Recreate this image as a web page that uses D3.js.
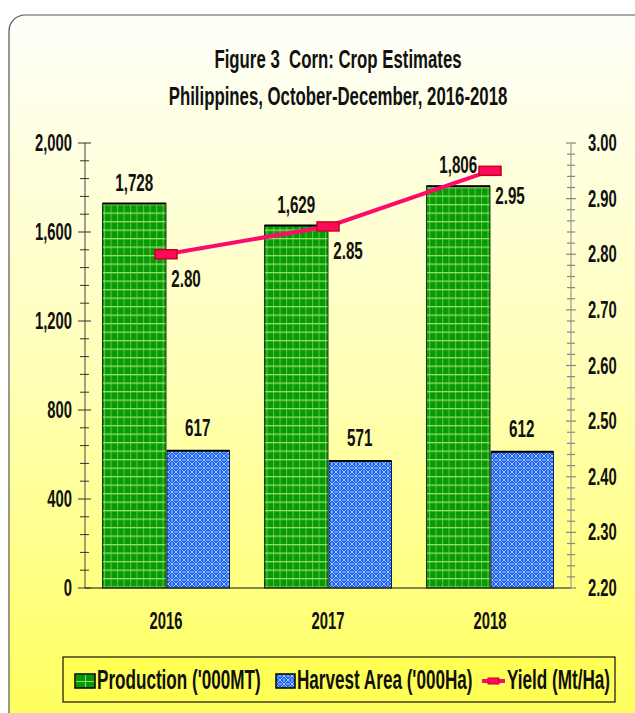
<!DOCTYPE html>
<html><head><meta charset="utf-8">
<script src="https://cdn.jsdelivr.net/npm/d3@7"></script>
<style>
html,body{margin:0;padding:0;background:#fff;}
svg text{font-family:"Liberation Sans",Arial,sans-serif;font-weight:bold;fill:#111;white-space:pre;}
</style></head>
<body>
<script>
const years = ["2016","2017","2018"];
const production = [1728, 1629, 1806];
const harvestArea = [617, 571, 612];
const yieldVals = [2.80, 2.85, 2.95];
const leftTicks = [0, 400, 800, 1200, 1600, 2000];
const rightTicks = [2.20, 2.30, 2.40, 2.50, 2.60, 2.70, 2.80, 2.90, 3.00];
const titleLines = ["Figure 3  Corn: Crop Estimates", "Philippines, October-December, 2016-2018"];
const legendLabels = ["Production ('000MT)", "Harvest Area ('000Ha)", "Yield (Mt/Ha)"];

const W = 635, H = 713;
const SX = 0.8, SY = 1.25; // narrow, tall glyphs
const tf = (x, y) => `translate(${x},${y}) scale(${SX},${SY})`;

const svg = d3.select("body").append("svg").attr("width", W).attr("height", H);
const defs = svg.append("defs");

const grad = defs.append("linearGradient").attr("id","bg").attr("x1",0).attr("y1",0).attr("x2",0).attr("y2",1);
grad.append("stop").attr("offset","0%").attr("stop-color","#fffffa");
grad.append("stop").attr("offset","50%").attr("stop-color","#ffffb4");
grad.append("stop").attr("offset","100%").attr("stop-color","#ffff50");

// green grid pattern
const pg = defs.append("pattern").attr("id","pgreen").attr("patternUnits","userSpaceOnUse")
  .attr("width",6.5).attr("height",8.5);
pg.append("rect").attr("width",6.5).attr("height",8.5).attr("fill","#069a06");
pg.append("rect").attr("x",0).attr("y",0).attr("width",1.1).attr("height",8.5).attr("fill","#5cc23a");
pg.append("rect").attr("x",0).attr("y",0).attr("width",6.5).attr("height",1.3).attr("fill","#94de6a");

const pgL = defs.append("pattern").attr("id","pgreenL").attr("patternUnits","userSpaceOnUse")
  .attr("width",10).attr("height",7).attr("x",75).attr("y",674);
pgL.append("rect").attr("width",10).attr("height",7).attr("fill","#069a06");
pgL.append("rect").attr("x",0).attr("y",0).attr("width",1).attr("height",7).attr("fill","#90dc68");
pgL.append("rect").attr("x",0).attr("y",0).attr("width",10).attr("height",1).attr("fill","#90dc68");

// blue lattice pattern
const pb = defs.append("pattern").attr("id","pblue").attr("patternUnits","userSpaceOnUse")
  .attr("width",8).attr("height",8);
pb.append("rect").attr("width",8).attr("height",8).attr("fill","#1862f2");
pb.append("path").attr("d","M0,0 L8,8 M8,0 L0,8").attr("stroke","#a8c8ff").attr("stroke-width",1).attr("fill","none");
pb.append("path").attr("d","M4,0 L4,1.5 M0,4 L1.5,4 M6.5,4 L8,4 M4,6.5 L4,8").attr("stroke","#d8e6ff").attr("stroke-width",1).attr("fill","none");

// frame
svg.append("rect").attr("x",9).attr("y",15).attr("width",W+40).attr("height",H+40)
  .attr("rx",16).attr("ry",16).attr("fill","url(#bg)").attr("stroke","#555").attr("stroke-width",1.2);

// title
svg.append("g").selectAll("text").data(titleLines).join("text")
  .attr("transform",(d,i)=>tf(338, 68+i*37)).attr("text-anchor","middle")
  .attr("font-size",21).text(d=>d);

const x0 = 85, x1 = 571, yTop = 143, yBot = 588;
const x = d3.scaleBand().domain(years).range([x0,x1]).paddingInner(0.216).paddingOuter(0.108);
const xs = d3.scaleBand().domain(["p","h"]).range([0,x.bandwidth()]);
const yL = d3.scaleLinear().domain([0,2000]).range([yBot,yTop]);
const yR = d3.scaleLinear().domain([2.2,3.0]).range([yBot,yTop]);
const fmt = d3.format(",");

// bars
const gb = svg.append("g");
years.forEach((yr,i)=>{
  const bx = x(yr);
  const hp = yL(production[i]);
  gb.append("rect").attr("x",bx+xs("p")).attr("y",hp).attr("width",xs.bandwidth()).attr("height",yBot-hp)
    .attr("fill","url(#pgreen)").attr("stroke","#1a3a1a").attr("stroke-width",1);
  gb.append("line").attr("x1",bx+xs("p")).attr("x2",bx+xs("p")+xs.bandwidth()).attr("y1",hp).attr("y2",hp)
    .attr("stroke","#000").attr("stroke-width",2);
  const hh = yL(harvestArea[i]);
  gb.append("rect").attr("x",bx+xs("h")+1).attr("y",hh).attr("width",xs.bandwidth()-1).attr("height",yBot-hh)
    .attr("fill","url(#pblue)").attr("stroke","#10204a").attr("stroke-width",1);
  gb.append("line").attr("x1",bx+xs("h")+1).attr("x2",bx+xs("h")+xs.bandwidth()).attr("y1",hh).attr("y2",hh)
    .attr("stroke","#000").attr("stroke-width",2);
  gb.append("text").attr("transform",tf(bx+xs("p")+xs.bandwidth()/2, hp-13)).attr("text-anchor","middle")
    .attr("font-size",19).text(fmt(production[i]));
  gb.append("text").attr("transform",tf(bx+xs("h")+xs.bandwidth()/2, hh-15)).attr("text-anchor","middle")
    .attr("font-size",19).text(fmt(harvestArea[i]));
});

// baseline
svg.append("line").attr("x1",x0).attr("x2",x1).attr("y1",yBot).attr("y2",yBot).attr("stroke","#111").attr("stroke-width",1.2);

// left axis
const gl = svg.append("g");
gl.append("line").attr("x1",x0).attr("x2",x0).attr("y1",yTop).attr("y2",yBot).attr("stroke","#444").attr("stroke-width",1);
const lMinor = d3.range(0,2001,80);
gl.selectAll("line.t").data(lMinor).join("line").attr("class","t")
  .attr("x1",d=> leftTicks.includes(d)?x0-7:x0-5).attr("x2",d=> leftTicks.includes(d)?x0+6:x0+4)
  .attr("y1",d=>yL(d)).attr("y2",d=>yL(d)).attr("stroke","#333").attr("stroke-width",1);
gl.selectAll("text").data(leftTicks).join("text").attr("transform",d=>tf(x0-13, yL(d)+8))
  .attr("text-anchor","end").attr("font-size",18.5).text(d=>fmt(d));

// right axis
const gr = svg.append("g");
gr.append("line").attr("x1",x1).attr("x2",x1).attr("y1",yTop).attr("y2",yBot).attr("stroke","#888").attr("stroke-width",1);
const rMinor = d3.range(0,41).map(k=>2.2+k*0.02);
gr.selectAll("line.t").data(rMinor).join("line").attr("class","t")
  .attr("x1",(d,k)=> k%5===0?x1-5:x1-4).attr("x2",(d,k)=> k%5===0?x1+5:x1+4)
  .attr("y1",d=>yR(d)).attr("y2",d=>yR(d)).attr("stroke","#888").attr("stroke-width",1.2);
gr.selectAll("text").data(rightTicks).join("text").attr("transform",d=>tf(x1+17, yR(d)+8))
  .attr("text-anchor","start").attr("font-size",18.5).text(d=>d.toFixed(2));

// category labels
svg.append("g").selectAll("text").data(years).join("text")
  .attr("transform",d=>tf(x(d)+x.bandwidth()/2, 629)).attr("text-anchor","middle")
  .attr("font-size",18.5).text(d=>d);

// yield line
const line = d3.line().x((d,i)=>x(years[i])+x.bandwidth()/2).y(d=>yR(d));
svg.append("path").datum(yieldVals).attr("d",line).attr("fill","none").attr("stroke","#ff0a6a").attr("stroke-width",4);
svg.append("g").selectAll("rect").data(yieldVals).join("rect")
  .attr("x",(d,i)=>x(years[i])+x.bandwidth()/2-11).attr("y",d=>yR(d)-4.5).attr("width",22).attr("height",9)
  .attr("fill","#ff0a5a").attr("stroke","#c8001e").attr("stroke-width",1.5);
svg.append("g").selectAll("text").data(yieldVals).join("text")
  .attr("transform",(d,i)=>tf(x(years[i])+x.bandwidth()/2+20, yR(d)+33)).attr("text-anchor","middle")
  .attr("font-size",19).text(d=>d.toFixed(2));

// legend
const lg = svg.append("g");
lg.append("rect").attr("x",63).attr("y",657).attr("width",552).attr("height",45)
  .attr("fill","#ffff55").attr("stroke","#111").attr("stroke-width",1.2);
lg.append("rect").attr("x",75).attr("y",674).attr("width",20).attr("height",14).attr("fill","url(#pgreenL)").attr("stroke","#000").attr("stroke-width",1.5);
lg.append("text").attr("transform",tf(97,689)).attr("font-size",21.4).text(legendLabels[0]);
lg.append("rect").attr("x",276).attr("y",674).attr("width",19).attr("height",14).attr("fill","url(#pblue)").attr("stroke","#000").attr("stroke-width",1.5);
lg.append("text").attr("transform",tf(297,689)).attr("font-size",21.4).text(legendLabels[1]);
lg.append("line").attr("x1",482).attr("x2",505).attr("y1",681).attr("y2",681).attr("stroke","#ff0a6a").attr("stroke-width",4);
lg.append("rect").attr("x",488).attr("y",678).attr("width",11).attr("height",6).attr("fill","#ff0a5a").attr("stroke","#c8001e").attr("stroke-width",1);
lg.append("text").attr("transform",tf(507,689)).attr("font-size",21.4).text(legendLabels[2]);
</script>
</body></html>
